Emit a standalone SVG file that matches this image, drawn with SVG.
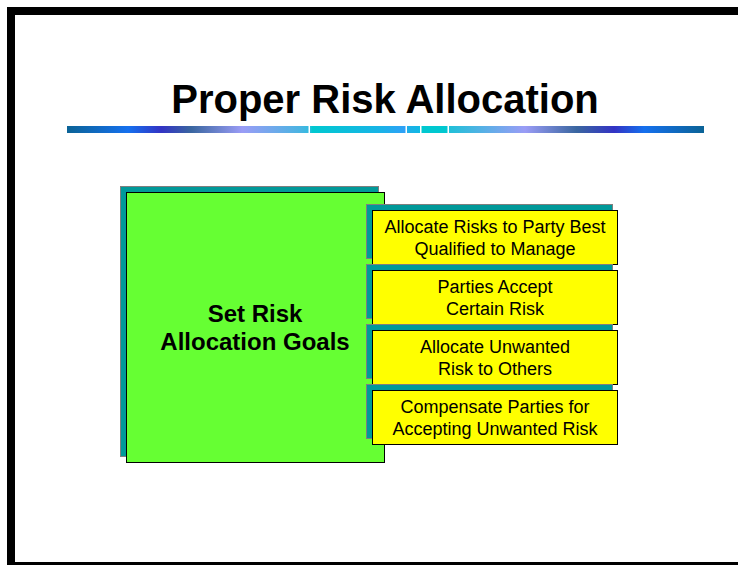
<svg xmlns="http://www.w3.org/2000/svg" width="738" height="565" viewBox="0 0 738 565">
<defs>
<linearGradient id="bar" gradientUnits="userSpaceOnUse" x1="67" y1="0" x2="704" y2="0">
<stop offset="0" stop-color="#0b6396"/>
<stop offset="0.096" stop-color="#1570ee"/>
<stop offset="0.148" stop-color="#3333c4"/>
<stop offset="0.195" stop-color="#3a66a0"/>
<stop offset="0.275" stop-color="#9a9cf6"/>
<stop offset="0.366" stop-color="#4ab4e2"/>
<stop offset="0.381" stop-color="#30bce0"/>
<stop offset="0.385" stop-color="#00c8d0"/>
<stop offset="0.49" stop-color="#18b4e6"/>
<stop offset="0.531" stop-color="#30a0f8"/>
<stop offset="0.534" stop-color="#20aee8"/>
<stop offset="0.553" stop-color="#10b8e4"/>
<stop offset="0.557" stop-color="#00c8d0"/>
<stop offset="0.595" stop-color="#00c8d0"/>
<stop offset="0.60" stop-color="#20c0d8"/>
<stop offset="0.719" stop-color="#9a9cf6"/>
<stop offset="0.80" stop-color="#3a66a0"/>
<stop offset="0.859" stop-color="#3333c4"/>
<stop offset="0.906" stop-color="#1570ee"/>
<stop offset="1" stop-color="#0b6396"/>
</linearGradient>
</defs>
<style>
.shadow{fill:#009999;stroke:#7f7f7f;stroke-width:1}
.main{fill:#66ff33;stroke:#000;stroke-width:1}
.item{fill:#ffff00;stroke:#000;stroke-width:1}
.t{font-family:"Liberation Sans",Arial,sans-serif;fill:#000;text-anchor:middle}
.it{font-size:18px}
.mt{font-size:24px;font-weight:bold}
</style>
<g id="frame">
<rect x="7" y="7" width="731" height="8" fill="#000"/>
<rect x="7" y="7" width="8" height="558" fill="#000"/>
<rect x="7" y="562" width="731" height="3" fill="#000"/>
</g>
<g id="title">
<text class="t" x="385" y="113" font-size="40" font-weight="bold">Proper Risk Allocation</text>
<rect x="67" y="126" width="637" height="7" fill="url(#bar)"/>
<g fill="#fff">
<rect x="308.5" y="126" width="1.5" height="7"/>
<rect x="405.5" y="126" width="1.5" height="7"/>
<rect x="420" y="126" width="1.5" height="7"/>
<rect x="447.5" y="126" width="1.5" height="7"/>
</g>
</g>
<g id="goals">
<rect class="shadow" x="120.5" y="186.5" width="258" height="270"/>
<rect class="main" x="126.5" y="192.5" width="258" height="270"/>
<text class="t mt" x="255" y="322">Set Risk</text>
<text class="t mt" x="255" y="350">Allocation Goals</text>
</g>
<g id="item1">
<rect class="shadow" x="366.5" y="204.5" width="246" height="54"/>
<rect class="item" x="372.5" y="210.5" width="245" height="54"/>
<text class="t it" x="495" y="233">Allocate Risks to Party Best</text>
<text class="t it" x="495" y="255">Qualified to Manage</text>
</g>
<g id="item2">
<rect class="shadow" x="366.5" y="264.5" width="246" height="54"/>
<rect class="item" x="372.5" y="270.5" width="245" height="54"/>
<text class="t it" x="495" y="293">Parties Accept</text>
<text class="t it" x="495" y="315">Certain Risk</text>
</g>
<g id="item3">
<rect class="shadow" x="366.5" y="324.5" width="246" height="54"/>
<rect class="item" x="372.5" y="330.5" width="245" height="54"/>
<text class="t it" x="495" y="353">Allocate Unwanted</text>
<text class="t it" x="495" y="375">Risk to Others</text>
</g>
<g id="item4">
<rect class="shadow" x="366.5" y="384.5" width="246" height="54"/>
<rect class="item" x="372.5" y="390.5" width="245" height="54"/>
<text class="t it" x="495" y="413">Compensate Parties for</text>
<text class="t it" x="495" y="435">Accepting Unwanted Risk</text>
</g>
<g id="connectors"/>
</svg>
